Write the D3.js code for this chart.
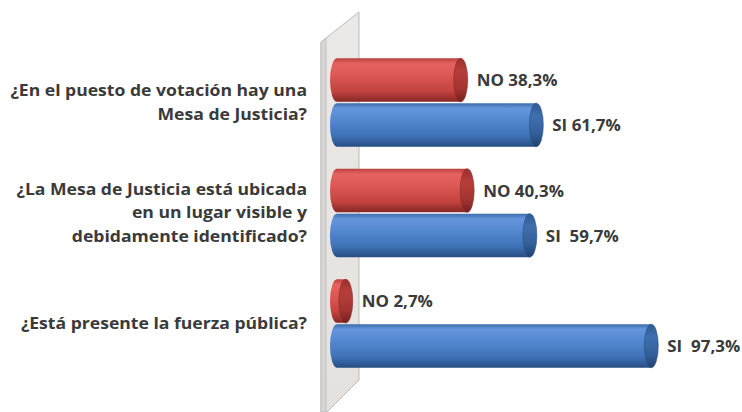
<!DOCTYPE html>
<html><head><meta charset="utf-8">
<script src="https://cdn.jsdelivr.net/npm/d3@7"></script>
<style>
html,body{margin:0;padding:0;background:#fff;}
svg{display:block;}
</style></head>
<body>
<svg id="chart" width="742" height="412"></svg>
<script>
const categories = [
  ["¿En el puesto de votación hay una", "Mesa de Justicia?"],
  ["¿La Mesa de Justicia está ubicada", "en un lugar visible y", "debidamente identificado?"],
  ["¿Está presente la fuerza pública?"]
];
const seriesNames = ["NO", "SI"];
const noValues = [38.3, 40.3, 2.7];
const siValues = [61.7, 59.7, 97.3];
const noLabels = ["NO 38,3%", "NO 40,3%", "NO 2,7%"];
const siLabels = ["SI 61,7%", "SI  59,7%", "SI  97,3%"];

const svg = d3.select("#chart");
const defs = svg.append("defs");

function grad(id, stops) {
  const g = defs.append("linearGradient").attr("id", id)
    .attr("x1", 0).attr("y1", 0).attr("x2", 0).attr("y2", 1);
  stops.forEach(s => g.append("stop").attr("offset", s[0]).attr("stop-color", s[1]));
}
grad("gNO", [[0, "#b9403c"], [0.12, "#e5625e"], [0.35, "#de5a56"], [0.75, "#c4433f"], [1, "#852724"]]);
grad("gSI", [[0, "#3d6cab"], [0.12, "#6596dc"], [0.35, "#568ad2"], [0.75, "#3f72b7"], [1, "#264d82"]]);
grad("gNOcap", [[0, "#9c302d"], [0.3, "#b63e3a"], [0.7, "#a33431"], [1, "#74201e"]]);
grad("gSIcap", [[0, "#2f5a92"], [0.3, "#3f6fae"], [0.7, "#335f99"], [1, "#1f416e"]]);
grad("gWall", [[0, "#ebe9e7"], [1, "#e4e1de"]]);

const x = d3.scaleLinear().domain([0, 100]).range([337, 660]);
const y = d3.scaleBand().domain(d3.range(categories.length)).range([45, 381]).paddingInner(0.2).paddingOuter(0.12);
const ySub = d3.scaleBand().domain(seriesNames).range([0, y.bandwidth()]).paddingInner(0.03);

// 3D wall (side panel)
const wall = svg.append("g");
wall.append("path")
  .attr("d", "M321,42 L359,12 L359,380 L327,412 L321,412 Z")
  .attr("fill", "url(#gWall)").attr("stroke", "#bdbbb9").attr("stroke-width", 1);
wall.append("path")
  .attr("d", "M321,42 L326,38 L326,412 L321,412 Z")
  .attr("fill", "#d8d6d4").attr("stroke", "#bdbbb9").attr("stroke-width", 0.8);

const rx = 7;
function cylinder(g, x0, x1, yTop, h, fillId, capId) {
  const cy = yTop + h / 2, ry = h / 2;
  g.append("path")
    .attr("d", `M${x0},${yTop} L${x1},${yTop} L${x1},${yTop + h} L${x0},${yTop + h} A${rx},${ry} 0 0 1 ${x0},${yTop} Z`)
    .attr("fill", `url(#${fillId})`);
  g.append("ellipse").attr("cx", x1).attr("cy", cy).attr("rx", rx).attr("ry", ry)
    .attr("fill", `url(#${capId})`).attr("stroke", fillId === "gNO" ? "#8a2a27" : "#2b5187").attr("stroke-width", 0.6);
}

const FONT = "'Open Sans', Lato, sans-serif";
const bars = svg.append("g");
const series = [
  {name: "NO", values: noValues, labels: noLabels, fill: "gNO", cap: "gNOcap"},
  {name: "SI", values: siValues, labels: siLabels, fill: "gSI", cap: "gSIcap"}
];
categories.forEach((c, i) => {
  series.forEach(s => {
    const yTop = y(i) + ySub(s.name);
    const h = ySub.bandwidth();
    const v = s.values[i];
    cylinder(bars, x(0), x(v), yTop, h, s.fill, s.cap);
    bars.append("text")
      .attr("transform", `translate(${x(v) + rx + 9},${yTop + h / 2 + 2}) scale(1.06,1)`)
      .attr("dominant-baseline", "middle")
      .attr("font-family", FONT)
      .attr("font-weight", "bold")
      .attr("font-size", 16)
      .attr("fill", "#3a3a3a")
      .style("white-space", "pre")
      .text(s.labels[i]);
  });
});

// Category labels
const catG = svg.append("g");
const lineH = 23.5;
categories.forEach((lines, i) => {
  const cy = y(i) + y.bandwidth() / 2 + 1;
  const t = catG.append("text")
    .attr("transform", `translate(307,${cy}) scale(1.1,1)`)
    .attr("text-anchor", "end")
    .attr("font-family", FONT)
    .attr("font-weight", "bold")
    .attr("font-size", 16)
    .attr("fill", "#3a3a3a");
  lines.forEach((ln, j) => {
    t.append("tspan")
      .attr("x", 0)
      .attr("y", (j - (lines.length - 1) / 2) * lineH)
      .attr("dominant-baseline", "middle")
      .text(ln);
  });
});
</script>
</body></html>
